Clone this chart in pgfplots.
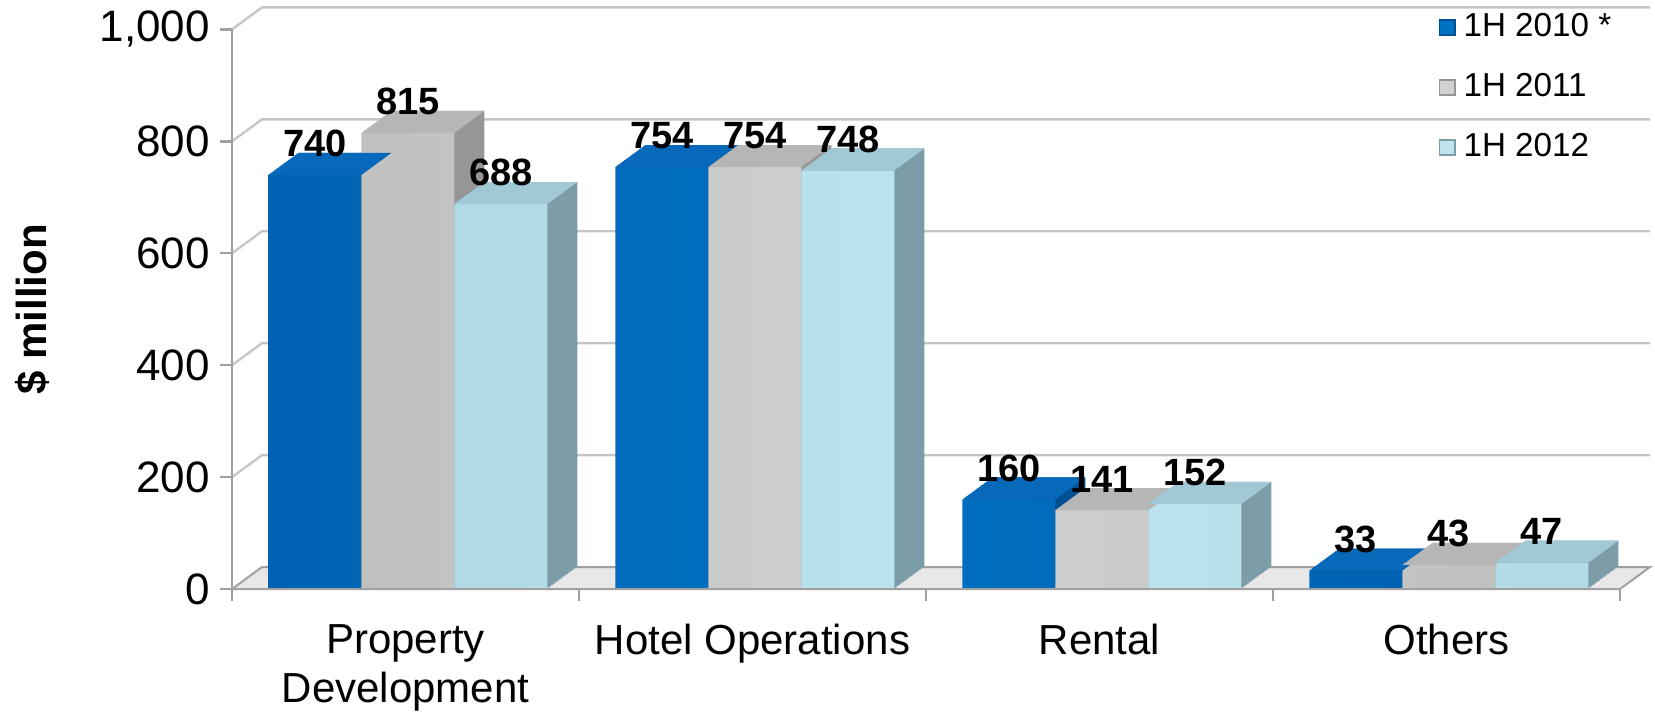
\documentclass[border=0pt]{standalone}
\usepackage{fontspec}
\setmainfont{Liberation Sans}
\usepackage{pgfplots}
\usepackage{pgfplotstable}
\pgfplotsset{compat=1.18}

\definecolor{bluefront}{RGB}{0,114,196}
\definecolor{blueedge}{RGB}{0,98,178}
\definecolor{bluetop}{RGB}{8,104,186}
\definecolor{blueside}{RGB}{0,80,148}
\definecolor{grayfront}{RGB}{210,210,210}
\definecolor{grayedge}{RGB}{192,192,192}
\definecolor{graytop}{RGB}{182,182,182}
\definecolor{grayside}{RGB}{150,150,150}
\definecolor{lbfront}{RGB}{190,229,239}
\definecolor{lbedge}{RGB}{176,218,230}
\definecolor{lbtop}{RGB}{160,201,213}
\definecolor{lbside}{RGB}{124,157,167}
\definecolor{gridgray}{RGB}{198,198,198}
\definecolor{axisgray}{RGB}{160,160,160}

% revenue by segment, $ million
\pgfplotstableread{
x  a    b    c
0  740  815  688
1  754  754  748
2  160  141  152
3  33   43   47
}\revtable

% top face of a bar: width 23.25pt, depth 7.5pt x 5.5pt
\pgfdeclareplotmark{topface}{%
  \pgfpathmoveto{\pgfqpoint{-11.625pt}{0pt}}%
  \pgfpathlineto{\pgfqpoint{11.625pt}{0pt}}%
  \pgfpathlineto{\pgfqpoint{19.125pt}{5.5pt}}%
  \pgfpathlineto{\pgfqpoint{-4.125pt}{5.5pt}}%
  \pgfpathclose
  \pgfusepathqfill}

% column, bar shift, side colour, top colour, edge colour, front colour
\newcommand{\barblock}[6]{%
  \pgfplotsinvokeforeach{16,15,...,1}{%
    \addplot[forget plot, ybar, bar width=23.25pt, bar shift=#2, draw=none, fill=#3,
      xshift=##1*0.46875pt, yshift=##1*0.34375pt] table[x=x, y=#1] {\revtable};
  }
  \addplot[forget plot, only marks, mark=topface, mark options={fill=#4, draw=none},
    xshift=#2] table[x=x, y=#1] {\revtable};
  \addplot[forget plot, ybar, bar width=23.25pt, bar shift=#2, draw=none,
    left color=#5, right color=#5, middle color=#6] table[x=x, y=#1] {\revtable};
}
\newcommand{\barlabels}[2]{%
  \addplot[forget plot, ybar, bar width=23.25pt, bar shift=#2, draw=none, fill=none,
    point meta=y, nodes near coords,
    nodes near coords style={font=\fontsize{9.5}{11}\selectfont\bfseries,
      anchor=south, inner sep=0pt, xshift=#2, yshift=4.3pt}] table[x=x, y=#1] {\revtable};
}

\begin{document}
\begin{tikzpicture}
\useasboundingbox (0,0) rectangle (413.75pt,177.75pt);
\begin{axis}[
    at={(58pt,30.5pt)}, anchor=south west,
    scale only axis, width=347pt, height=139.9pt,
    xmin=-0.5, xmax=3.5, ymin=0, ymax=1000,
    clip=false,
    axis line style={draw=none},
    tick style={draw=none}, major tick length=0pt,
    /pgf/number format/assume math mode=true,
    ytick={0,200,400,600,800,1000},
    yticklabels={0,200,400,600,800,{1,000}},
    yticklabel style={font=\fontsize{11}{13}\selectfont, xshift=-2pt},
    xtick={0,1,2,3},
    xticklabels={{Property\\Development},{Hotel Operations},{Rental},{Others}},
    xticklabel style={align=center, font=\fontsize{10.5}{12.3}\selectfont, yshift=-5.3pt},
    ylabel={\$ million},
    ylabel style={font=\fontsize{10.5}{12}\selectfont\bfseries,
      at={(axis description cs:-0.144,0.5)}, anchor=center},
    legend image code/.code={\draw[#1] (0pt,-1.9pt) rectangle (3.8pt,1.9pt);},
    legend style={at={(1,1)}, anchor=north east, draw=none, fill=none,
      font=\fontsize{8.3}{9.5}\selectfont, row sep=3.7pt, yshift=8.3pt, xshift=3pt},
    legend cell align=left,
]
% floor
\filldraw[fill=gray!18, draw=axisgray, line width=0.5pt]
  (axis cs:-0.5,0) -- (axis cs:3.5,0)
  -- ([xshift=7.5pt,yshift=5.5pt]axis cs:3.5,0)
  -- ([xshift=7.5pt,yshift=5.5pt]axis cs:-0.5,0) -- cycle;
% back wall grid
\pgfplotsinvokeforeach{200,400,600,800,1000}{%
  \draw[gridgray, line width=0.6pt] (axis cs:-0.5,#1)
    -- ([xshift=7.5pt,yshift=5.5pt]axis cs:-0.5,#1)
    -- ([xshift=7.5pt,yshift=5.5pt]axis cs:3.5,#1);
}

\barblock{a}{-22.65pt}{blueside}{bluetop}{blueedge}{bluefront}
\barblock{b}{0.6pt}{grayside}{graytop}{grayedge}{grayfront}
\barblock{c}{23.85pt}{lbside}{lbtop}{lbedge}{lbfront}

\barlabels{a}{-22.65pt}
\barlabels{b}{0.6pt}
\barlabels{c}{23.85pt}

% front axes and ticks
\draw[axisgray, line width=0.7pt] (axis cs:-0.5,1000) -- (axis cs:-0.5,0) -- (axis cs:3.5,0);
\pgfplotsinvokeforeach{0,200,400,600,800,1000}{%
  \draw[axisgray, line width=0.6pt] (axis cs:-0.5,#1) -- ([xshift=-3pt]axis cs:-0.5,#1);
}
\pgfplotsinvokeforeach{-0.5,0.5,1.5,2.5,3.5}{%
  \draw[axisgray, line width=0.6pt] (axis cs:#1,0) -- ([yshift=-3pt]axis cs:#1,0);
}

\addlegendimage{fill=bluefront, draw=blueside}
\addlegendentry{1H 2010 *}
\addlegendimage{fill=grayfront, draw=grayside}
\addlegendentry{1H 2011}
\addlegendimage{fill=lbfront, draw=lbside}
\addlegendentry{1H 2012}
\end{axis}
\end{tikzpicture}
\end{document}
